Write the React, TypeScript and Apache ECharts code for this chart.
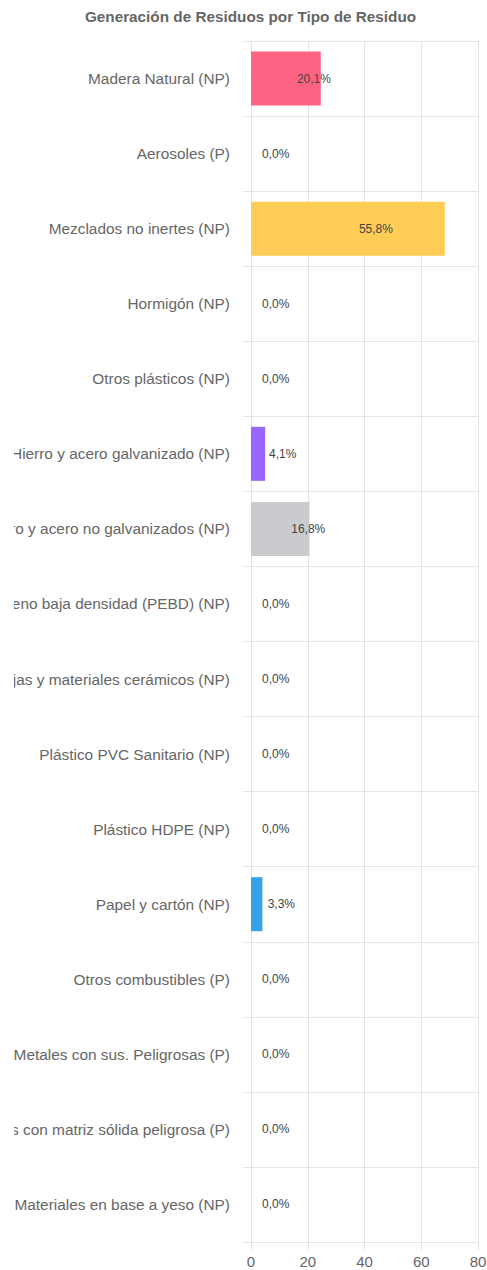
import React, { useEffect, useRef } from "react";
import * as echarts from "echarts";

const TITLE = "Generación de Residuos por Tipo de Residuo";

const categories = [
  "Madera Natural (NP)",
  "Aerosoles (P)",
  "Mezclados no inertes (NP)",
  "Hormigón (NP)",
  "Otros plásticos (NP)",
  "Hierro y acero galvanizado (NP)",
  "Hierro y acero no galvanizados (NP)",
  "Polietileno baja densidad (PEBD) (NP)",
  "Tejas y materiales cerámicos (NP)",
  "Plástico PVC Sanitario (NP)",
  "Plástico HDPE (NP)",
  "Papel y cartón (NP)",
  "Otros combustibles (P)",
  "Metales con sus. Peligrosas (P)",
  "Residuos con matriz sólida peligrosa (P)",
  "Materiales en base a yeso (NP)",
];

const values = [24.6, 0, 68.3, 0, 0, 5.0, 20.6, 0, 0, 0, 0, 4.0, 0, 0, 0, 0];

const palette = ["#ff6384", "#ff9f40", "#ffcd56", "#4bc0c0", "#36a2eb", "#9966ff", "#c9cbcf"];

const xMin = 0;
const xMax = 80;
const xInterval = 20;

const FONT = "'Liberation Sans', Arial, Helvetica, sans-serif";
const GRID_COLOR = "#e5e5e5";

export default function App() {
  const ref = useRef<HTMLDivElement>(null);

  useEffect(() => {
    if (!ref.current) return;
    const chart = echarts.init(ref.current, null, { renderer: "svg" });
    const total = values.reduce((a, b) => a + b, 0);
    chart.setOption({
      animation: false,
      title: {
        text: TITLE,
        left: "center",
        top: 9,
        padding: [0, 0, 0, 3],
        textStyle: { fontFamily: FONT, fontSize: 15.3, fontWeight: "bold", color: "#666" },
      },
      grid: {
        left: 237,
        top: 41,
        width: 227,
        height: 1201,
        containLabel: false,
        outerBoundsMode: "none",
      },
      xAxis: {
        type: "value",
        min: xMin,
        max: xMax,
        interval: xInterval,
        axisLine: { show: true, lineStyle: { color: GRID_COLOR, width: 1 } },
        axisTick: { show: true, length: 8, lineStyle: { color: GRID_COLOR } },
        splitLine: { show: true, lineStyle: { color: GRID_COLOR, width: 1 } },
        axisLabel: { fontFamily: FONT, fontSize: 15, color: "#666", margin: 12 },
      },
      yAxis: {
        type: "category",
        inverse: true,
        data: categories,
        axisLine: { show: true, lineStyle: { color: GRID_COLOR, width: 1 } },
        axisTick: { show: true, length: 8, lineStyle: { color: GRID_COLOR } },
        splitLine: { show: true, lineStyle: { color: GRID_COLOR, width: 1 } },
        axisLabel: { fontFamily: FONT, fontSize: 15.4, color: "#666", margin: 21 },
      },
      series: [
        {
          type: "bar",
          data: values.map((v, i) => ({ value: v, itemStyle: { color: palette[i % palette.length] } })),
          barCategoryGap: "28%",
          label: {
            show: true,
            position: ["50%", "50%"],
            align: "left",
            verticalAlign: "middle",
            offset: [11, 0],
            fontFamily: FONT,
            fontSize: 12,
            color: "#444",
            formatter: (p: any) => ((p.value / total) * 100).toFixed(1).replace(".", ",") + "%",
          },
        },
      ],
    });
    return () => chart.dispose();
  }, []);

  return (
    <div
      ref={ref}
      style={{ position: "absolute", left: 14, top: 0, width: 473, height: 1270, overflow: "hidden" }}
    />
  );
}
